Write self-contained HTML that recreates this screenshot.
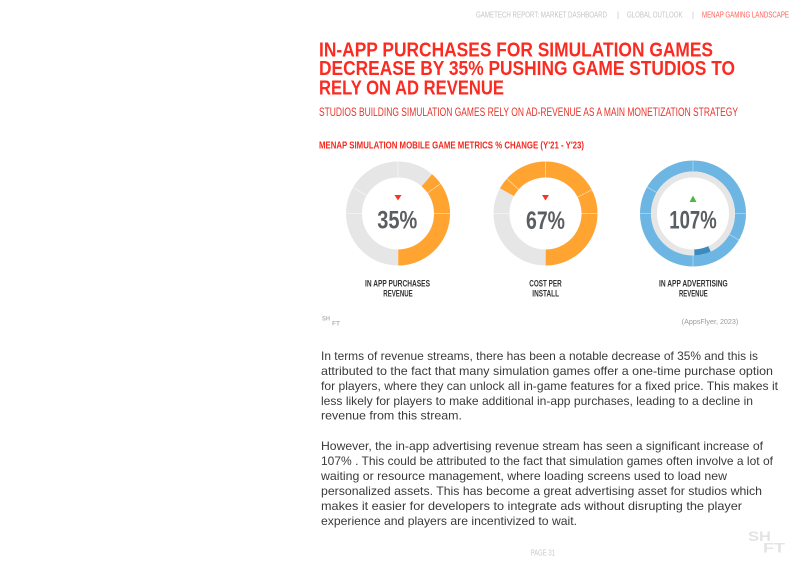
<!DOCTYPE html>
<html>
<head>
<meta charset="utf-8">
<style>
  html,body{margin:0;padding:0;background:#fff;}
  body{width:800px;height:565px;overflow:hidden;}
  svg{display:block;}
  .hd{font-family:"Liberation Sans",sans-serif;font-size:8px;}
  .cond{font-family:"Liberation Sans",sans-serif;font-weight:bold;}
  .para{font-family:"Liberation Sans",sans-serif;font-size:12px;fill:#3a3a3a;}
</style>
</head>
<body>
<svg width="800" height="565" viewBox="0 0 800 565" xmlns="http://www.w3.org/2000/svg">
  <rect width="800" height="565" fill="#fff"/>

  <!-- Header -->
  <text class="hd" x="476" y="17.3" fill="#c4c4c4" textLength="131" lengthAdjust="spacingAndGlyphs">GAMETECH REPORT:  MARKET DASHBOARD</text>
  <text class="hd" x="617" y="17.3" fill="#c4c4c4">|</text>
  <text class="hd" x="627" y="17.3" fill="#c4c4c4" textLength="55.5" lengthAdjust="spacingAndGlyphs">GLOBAL OUTLOOK</text>
  <text class="hd" x="692" y="17.3" fill="#c4c4c4">|</text>
  <text class="hd" x="702" y="17.3" fill="#ff5f54" textLength="87" lengthAdjust="spacingAndGlyphs">MENAP GAMING LANDSCAPE</text>

  <!-- Title -->
  <g class="cond" fill="#fb2b21" font-size="20.6">
    <text x="319" y="56.6" textLength="394" lengthAdjust="spacingAndGlyphs">IN-APP PURCHASES FOR SIMULATION GAMES</text>
    <text x="319" y="75.2" textLength="416" lengthAdjust="spacingAndGlyphs">DECREASE BY 35% PUSHING GAME STUDIOS TO</text>
    <text x="319" y="94.6" textLength="185" lengthAdjust="spacingAndGlyphs">RELY ON AD REVENUE</text>
  </g>
  <text x="319" y="116" font-family="Liberation Sans, sans-serif" font-size="12" fill="#e8332a" textLength="419" lengthAdjust="spacingAndGlyphs">STUDIOS BUILDING SIMULATION GAMES RELY ON AD-REVENUE AS A MAIN MONETIZATION STRATEGY</text>
  <text class="cond" x="319" y="148.3" font-size="10" fill="#f5281e" textLength="265" lengthAdjust="spacingAndGlyphs">MENAP SIMULATION MOBILE GAME METRICS % CHANGE (Y'21 - Y'23)</text>

  <!-- Donut 1 -->
  <g>
    <circle cx="398" cy="213.5" r="44" fill="none" stroke="#e6e6e6" stroke-width="16"/>
    <circle cx="398" cy="213.5" r="44" fill="none" stroke="#ffa431" stroke-width="16"
      stroke-dasharray="106.74 400" transform="rotate(-49 398 213.5)"/>
    <g stroke="#fff" stroke-opacity="0.55" stroke-width="0.8" transform="translate(398 213.5)">
      <line x1="0" y1="-36" x2="0" y2="-52"/>
      <line x1="36" y1="0" x2="52" y2="0"/>
      <line x1="-36" y1="0" x2="-52" y2="0"/>
      <line x1="0" y1="36" x2="0" y2="52"/>
      <line x1="29.5" y1="-20.6" x2="42.6" y2="-29.8"/>
      <line x1="-31.2" y1="-18" x2="-45" y2="-26"/>
    </g>
    <polygon points="394.5,195 401.5,195 398,200.5" fill="#fa3326"/>
    <text class="cond" x="377.3" y="228.3" font-size="25" fill="#5a5e60" textLength="40" lengthAdjust="spacingAndGlyphs">35%</text>
  </g>

  <!-- Donut 2 -->
  <g>
    <circle cx="545.5" cy="213.5" r="44" fill="none" stroke="#e6e6e6" stroke-width="16"/>
    <circle cx="545.5" cy="213.5" r="44" fill="none" stroke="#ffa431" stroke-width="16"
      stroke-dasharray="185.08 400" transform="rotate(209 545.5 213.5)"/>
    <g stroke="#fff" stroke-opacity="0.55" stroke-width="0.8" transform="translate(545.5 213.5)">
      <line x1="0" y1="-36" x2="0" y2="-52"/>
      <line x1="36" y1="0" x2="52" y2="0"/>
      <line x1="-36" y1="0" x2="-52" y2="0"/>
      <line x1="0" y1="36" x2="0" y2="52"/>
      <line x1="32" y1="-16.3" x2="46.3" y2="-23.6"/>
      <line x1="-26.8" y1="-24.1" x2="-38.6" y2="-34.8"/>
    </g>
    <polygon points="542,195 549,195 545.5,200.5" fill="#fa3326"/>
    <text class="cond" x="526" y="229" font-size="25" fill="#5a5e60" textLength="39" lengthAdjust="spacingAndGlyphs">67%</text>
  </g>

  <!-- Donut 3 -->
  <g>
    <circle cx="693" cy="213.5" r="47.5" fill="none" stroke="#6db5e2" stroke-width="11"/>
    <circle cx="693" cy="213.5" r="39" fill="none" stroke="#e6e6e6" stroke-width="6"/>
    <circle cx="693" cy="213.5" r="39" fill="none" stroke="#3b8bc1" stroke-width="6"
      stroke-dasharray="15.66 400" transform="rotate(65 693 213.5)"/>
    <g stroke="#fff" stroke-opacity="0.45" stroke-width="0.8" transform="translate(693 213.5)">
      <line x1="0" y1="-42" x2="0" y2="-53"/>
      <line x1="42" y1="0" x2="53" y2="0"/>
      <line x1="-42" y1="0" x2="-53" y2="0"/>
      <line x1="0" y1="42" x2="0" y2="53"/>
      <line x1="-36.4" y1="-21" x2="-45.9" y2="-26.5"/>
      <line x1="36.4" y1="21" x2="45.9" y2="26.5"/>
    </g>
    <polygon points="689.5,202 696.5,202 693,195.5" fill="#4cb848"/>
    <text class="cond" x="669.3" y="228.3" font-size="25" fill="#5a5e60" textLength="47.4" lengthAdjust="spacingAndGlyphs">107%</text>
  </g>

  <!-- Donut labels -->
  <g class="cond" font-size="9" fill="#333">
    <text x="365" y="286.7" textLength="65" lengthAdjust="spacingAndGlyphs">IN APP PURCHASES</text>
    <text x="383.3" y="296.7" textLength="29.4" lengthAdjust="spacingAndGlyphs">REVENUE</text>
    <text x="529.3" y="286.7" textLength="32.4" lengthAdjust="spacingAndGlyphs">COST PER</text>
    <text x="532.3" y="296.7" textLength="26.7" lengthAdjust="spacingAndGlyphs">INSTALL</text>
    <text x="659" y="286.7" textLength="68.7" lengthAdjust="spacingAndGlyphs">IN APP ADVERTISING</text>
    <text x="679" y="296.7" textLength="28.7" lengthAdjust="spacingAndGlyphs">REVENUE</text>
  </g>

  <!-- small logo -->
  <g class="cond" fill="#b5b5b5" font-size="6">
    <text x="322" y="320.5" textLength="8" lengthAdjust="spacingAndGlyphs">SH</text>
    <text x="332" y="325.5" textLength="8" lengthAdjust="spacingAndGlyphs">FT</text>
  </g>
  <text x="738.3" y="324" text-anchor="end" font-family="Liberation Sans, sans-serif" font-size="7" fill="#9a9a9a" textLength="56.6" lengthAdjust="spacingAndGlyphs">(AppsFlyer, 2023)</text>

  <!-- Paragraphs -->
  <g class="para">
    <text x="321" y="360" textLength="437" lengthAdjust="spacingAndGlyphs">In terms of revenue streams, there has been a notable decrease of 35% and this is</text>
    <text x="321" y="375" textLength="452" lengthAdjust="spacingAndGlyphs">attributed to the fact that many simulation games offer a one-time purchase option</text>
    <text x="321" y="390" textLength="457" lengthAdjust="spacingAndGlyphs">for players, where they can unlock all in-game features for a fixed price. This makes it</text>
    <text x="321" y="405" textLength="432" lengthAdjust="spacingAndGlyphs">less likely for players to make additional in-app purchases, leading to a decline in</text>
    <text x="321" y="419.5" textLength="141" lengthAdjust="spacingAndGlyphs">revenue from this stream.</text>

    <text x="321" y="450" textLength="442" lengthAdjust="spacingAndGlyphs">However, the in-app advertising revenue stream has seen a significant increase of</text>
    <text x="321" y="465" textLength="452" lengthAdjust="spacingAndGlyphs">107% . This could be attributed to the fact that simulation games often involve a lot of</text>
    <text x="321" y="480" textLength="406" lengthAdjust="spacingAndGlyphs">waiting or resource management, where loading screens used to load new</text>
    <text x="321" y="495" textLength="441" lengthAdjust="spacingAndGlyphs">personalized assets. This has become a great advertising asset for studios which</text>
    <text x="321" y="510" textLength="421" lengthAdjust="spacingAndGlyphs">makes it easier for developers to integrate ads without disrupting the player</text>
    <text x="321" y="525" textLength="256" lengthAdjust="spacingAndGlyphs">experience and players are incentivized to wait.</text>
  </g>

  <!-- Footer -->
  <text x="530.7" y="555.7" font-family="Liberation Sans, sans-serif" font-size="8.5" fill="#c8c8c8" textLength="24.3" lengthAdjust="spacingAndGlyphs">PAGE 31</text>
  <g class="cond" fill="#e4e4e4" font-size="13.5">
    <text x="748" y="541" textLength="23" lengthAdjust="spacingAndGlyphs">SH</text>
    <text x="763" y="552.5" textLength="22" lengthAdjust="spacingAndGlyphs">FT</text>
  </g>
</svg>
</body>
</html>
